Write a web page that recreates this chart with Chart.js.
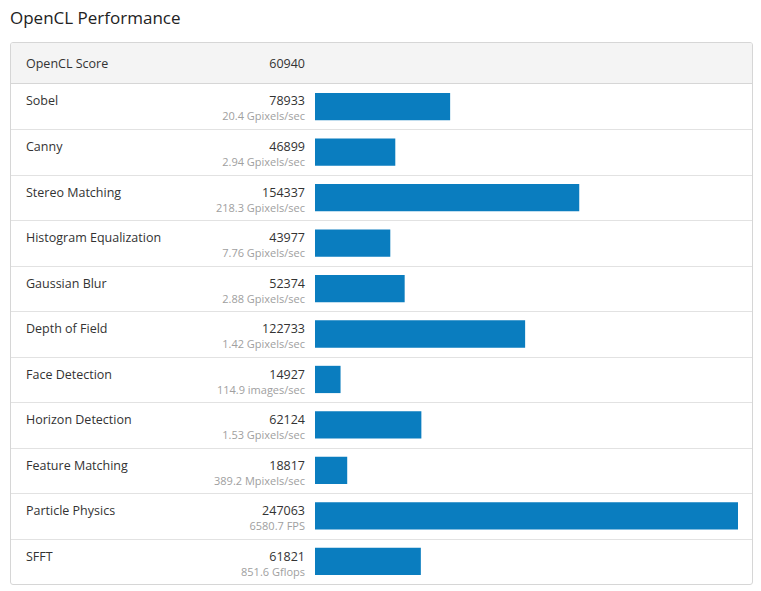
<!DOCTYPE html>
<html><head><meta charset="utf-8">
<script src="https://cdn.jsdelivr.net/npm/chart.js@4/dist/chart.umd.min.js"></script>
<style>
body{margin:0;background:#fff;font-family:"Open Sans","Noto Sans",Arial,sans-serif;color:#333;}
#title{position:absolute;left:10px;top:6px;font-size:17px;color:#222;}
#panel{position:absolute;left:10px;top:42px;width:741px;height:541px;border:1px solid #d6d6d6;border-radius:3px;overflow:hidden;}
.row{position:absolute;left:0;width:741px;border-top:1px solid #e2e2e2;box-sizing:border-box;}
.name{position:absolute;left:15px;top:8px;font-size:12.5px;}
.score{position:absolute;right:447px;top:8px;font-size:12.5px;text-align:right;}
.sub{position:absolute;right:447px;top:24px;font-size:11px;color:#a0a0a0;text-align:right;white-space:nowrap;}
#wrap{position:absolute;left:304px;top:41px;width:423px;height:500px;}
</style></head><body>
<div id="title">OpenCL Performance</div>
<div id="panel"><div id="wrap"><canvas id="c"></canvas></div></div>
<script>
const categories = ["Sobel","Canny","Stereo Matching","Histogram Equalization","Gaussian Blur","Depth of Field","Face Detection","Horizon Detection","Feature Matching","Particle Physics","SFFT"];
const scores = [78933,46899,154337,43977,52374,122733,14927,62124,18817,247063,61821];
const rates = ["20.4 Gpixels/sec","2.94 Gpixels/sec","218.3 Gpixels/sec","7.76 Gpixels/sec","2.88 Gpixels/sec","1.42 Gpixels/sec","114.9 images/sec","1.53 Gpixels/sec","389.2 Mpixels/sec","6580.7 FPS","851.6 Gflops"];
const totalLabel = "OpenCL Score";
const totalScore = 60940;

const panel = document.getElementById("panel");
const rowH = 500 / categories.length;
const head = document.createElement("div");
head.className = "row";
head.style.cssText = "top:0;height:41px;background:#f4f4f4;border-top:none;border-bottom:1px solid #d6d6d6";
head.innerHTML = `<div class="name" style="top:12px">${totalLabel}</div><div class="score" style="top:12px">${totalScore}</div>`;
panel.insertBefore(head, panel.firstChild);
categories.forEach((n, i) => {
  const r = document.createElement("div");
  r.className = "row";
  r.style.top = (41 + i * rowH) + "px";
  r.style.height = rowH + "px";
  if (i === 0) r.style.borderTop = "none";
  r.innerHTML = `<div class="name">${n}</div><div class="score">${scores[i]}</div><div class="sub">${rates[i]}</div>`;
  panel.insertBefore(r, document.getElementById("wrap"));
});

new Chart(document.getElementById("c"), {
  type: "bar",
  data: { labels: categories, datasets: [{ data: scores, backgroundColor: "#0a7dbf", categoryPercentage: 0.6, barPercentage: 1 }] },
  options: {
    indexAxis: "y", responsive: true, maintainAspectRatio: false, animation: false,
    layout: { padding: 0 },
    plugins: { legend: { display: false }, tooltip: { enabled: false } },
    scales: {
      x: { display: false, min: 0, max: 247063 },
      y: { display: false }
    }
  }
});
</script>
</body></html>
